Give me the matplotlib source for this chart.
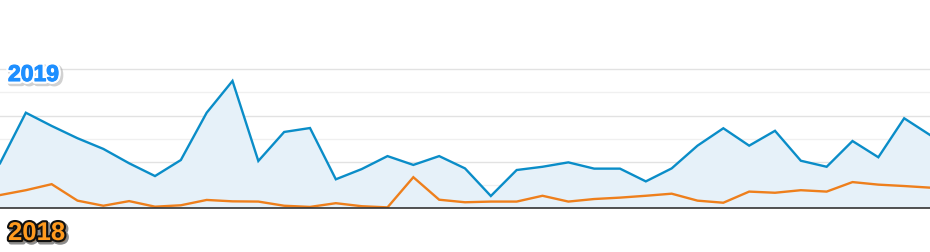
import matplotlib
matplotlib.use("Agg")
import matplotlib.pyplot as plt
import matplotlib.patheffects as pe
import numpy as np

labels = ["2019", "2018"]
values_2019 = [1.94, 4.12, 3.55, 3.02, 2.56, 1.94, 1.39, 2.08, 4.12, 5.49,
               2.04, 3.29, 3.46, 1.25, 1.69, 2.25, 1.87, 2.25, 1.72, 0.53,
               1.65, 1.79, 1.98, 1.71, 1.71, 1.16, 1.72, 2.70, 3.45, 2.70,
               3.34, 2.05, 1.79, 2.90, 2.20, 3.88, 3.16]
values_2018 = [0.57, 0.78, 1.04, 0.33, 0.11, 0.31, 0.07, 0.13, 0.36, 0.30,
               0.29, 0.11, 0.06, 0.22, 0.09, 0.04, 1.34, 0.37, 0.26, 0.29,
               0.29, 0.54, 0.29, 0.40, 0.46, 0.54, 0.63, 0.33, 0.24, 0.72,
               0.67, 0.78, 0.72, 1.13, 1.02, 0.96, 0.89]
days = np.arange(len(values_2019))

W, H = 930, 252
fig = plt.figure(figsize=(W / 100, H / 100), dpi=100)
base_px = 208.3
unit_px = 23.2
ax = fig.add_axes([0, (H - base_px) / H, 1, base_px / H])
ax.set_xlim(0, len(days) - 1)
ax.set_ylim(0, base_px / unit_px)

for k in range(1, 7):
    ax.axhline(k, color="#e2e2e2" if k % 2 == 0 else "#f0f0f0", lw=1.0, zorder=0)

ax.fill_between(days, values_2019, 0, color="#e6f1f9", zorder=1, lw=0)
ax.plot(days, values_2019, color="#0a8dc8", lw=1.7, zorder=3, solid_joinstyle="miter")
ax.plot(days, values_2018, color="#ee7f1c", lw=1.7, zorder=3, solid_joinstyle="miter")
ax.axhline(0, color="#333333", lw=1.2, zorder=4, clip_on=False)

for s in ax.spines.values():
    s.set_visible(False)
ax.set_xticks([])
ax.set_yticks([])
ax.patch.set_alpha(0)

blue_txt = "#1e8fff"
orange_txt = "#ff9a1e"
fig.text(8 / W, (H - 81) / H, labels[0], fontsize=16.5, fontweight="bold",
         family="Liberation Sans", color=blue_txt, va="baseline", ha="left",
         path_effects=[pe.Stroke(linewidth=4.5, foreground="#999999", alpha=0.45, offset=(1.5, -1.5)),
                       pe.Stroke(linewidth=4, foreground="white"),
                       pe.Stroke(linewidth=0.8, foreground=blue_txt),
                       pe.Normal()])
fig.text(8 / W, (H - 240) / H, labels[1], fontsize=18.5, fontweight="bold",
         family="Liberation Sans", color=orange_txt, va="baseline", ha="left",
         path_effects=[pe.Stroke(linewidth=3.5, foreground="#000000", alpha=0.45, offset=(1.5, -1.5)),
                       pe.Stroke(linewidth=3, foreground="#111111"),
                       pe.Normal()])

fig.savefig("out.png", dpi=100)
